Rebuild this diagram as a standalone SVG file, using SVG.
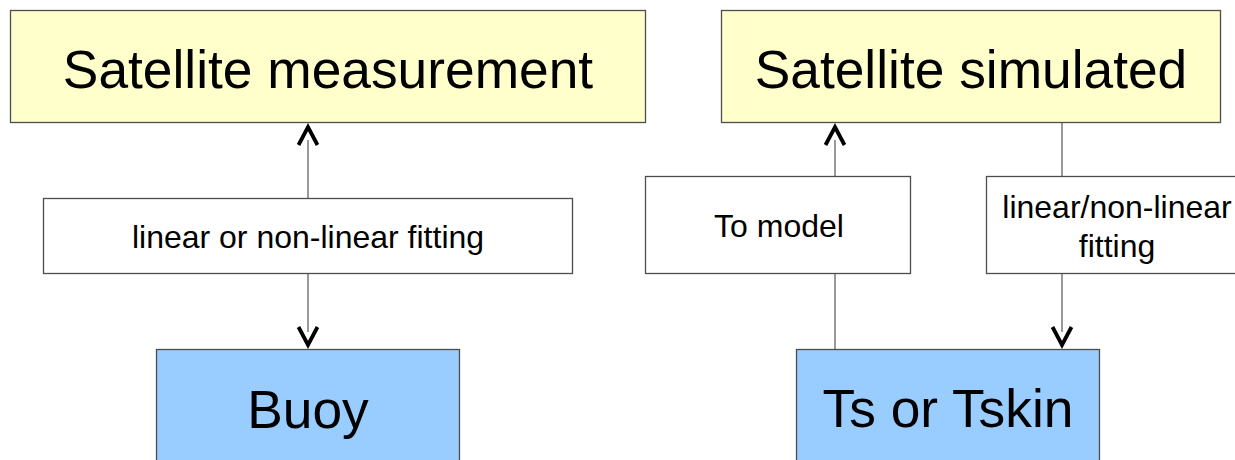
<svg xmlns="http://www.w3.org/2000/svg" width="1235" height="460" viewBox="0 0 1235 460">
<style>
.box{stroke:#4d4d4d;stroke-width:1.3}
.yel{fill:#ffffcc}
.blu{fill:#99ccff}
.wht{fill:#ffffff}
.big{font-family:"Liberation Sans",Arial,sans-serif;font-size:53.3px;fill:#000;text-anchor:middle}
.sm{font-family:"Liberation Sans",Arial,sans-serif;font-size:32px;fill:#000;text-anchor:middle}
.ln{stroke:#777;stroke-width:1.5;fill:none}
.ah{stroke:#000;stroke-width:3.8;fill:none;stroke-linejoin:miter}
</style>
<rect width="1235" height="460" fill="#fff"/>
<g id="connectors">
<line class="ln" x1="308" y1="198" x2="308" y2="140"/>
<polyline class="ah" points="298.5,145 308,127 317.5,145"/>
<line class="ln" x1="308" y1="274" x2="308" y2="332"/>
<polyline class="ah" points="298.5,327 308,345 317.5,327"/>
<line class="ln" x1="835" y1="176" x2="835" y2="140"/>
<polyline class="ah" points="825.5,145 835,127 844.5,145"/>
<line class="ln" x1="835" y1="274" x2="835" y2="349"/>
<line class="ln" x1="1062" y1="123" x2="1062" y2="176"/>
<line class="ln" x1="1062" y1="274" x2="1062" y2="332"/>
<polyline class="ah" points="1052.5,327 1062,345 1071.5,327"/>
</g>
<g id="sat-measurement">
<rect class="box yel" x="10.5" y="10.5" width="635" height="112"/>
<text class="big" x="328" y="88">Satellite measurement</text>
</g>
<g id="sat-simulated">
<rect class="box yel" x="721.5" y="10.5" width="499" height="112"/>
<text class="big" x="971" y="88">Satellite simulated</text>
</g>
<g id="fit-label">
<rect class="box wht" x="43.5" y="198.5" width="529" height="75"/>
<text class="sm" x="308" y="248">linear or non-linear fitting</text>
</g>
<g id="to-model">
<rect class="box wht" x="645.5" y="176.5" width="265" height="97"/>
<text class="sm" x="779" y="237">To model</text>
</g>
<g id="fit-label-2">
<rect class="box wht" x="986.5" y="176.5" width="262" height="97"/>
<text class="sm" x="1117" y="218">linear/non-linear</text>
<text class="sm" x="1117" y="257">fitting</text>
</g>
<g id="buoy">
<rect class="box blu" x="156.5" y="349.5" width="303" height="120"/>
<text class="big" x="308" y="428">Buoy</text>
</g>
<g id="ts">
<rect class="box blu" x="796.5" y="349.5" width="303" height="120"/>
<text class="big" x="948" y="427">Ts or Tskin</text>
</g>
</svg>
